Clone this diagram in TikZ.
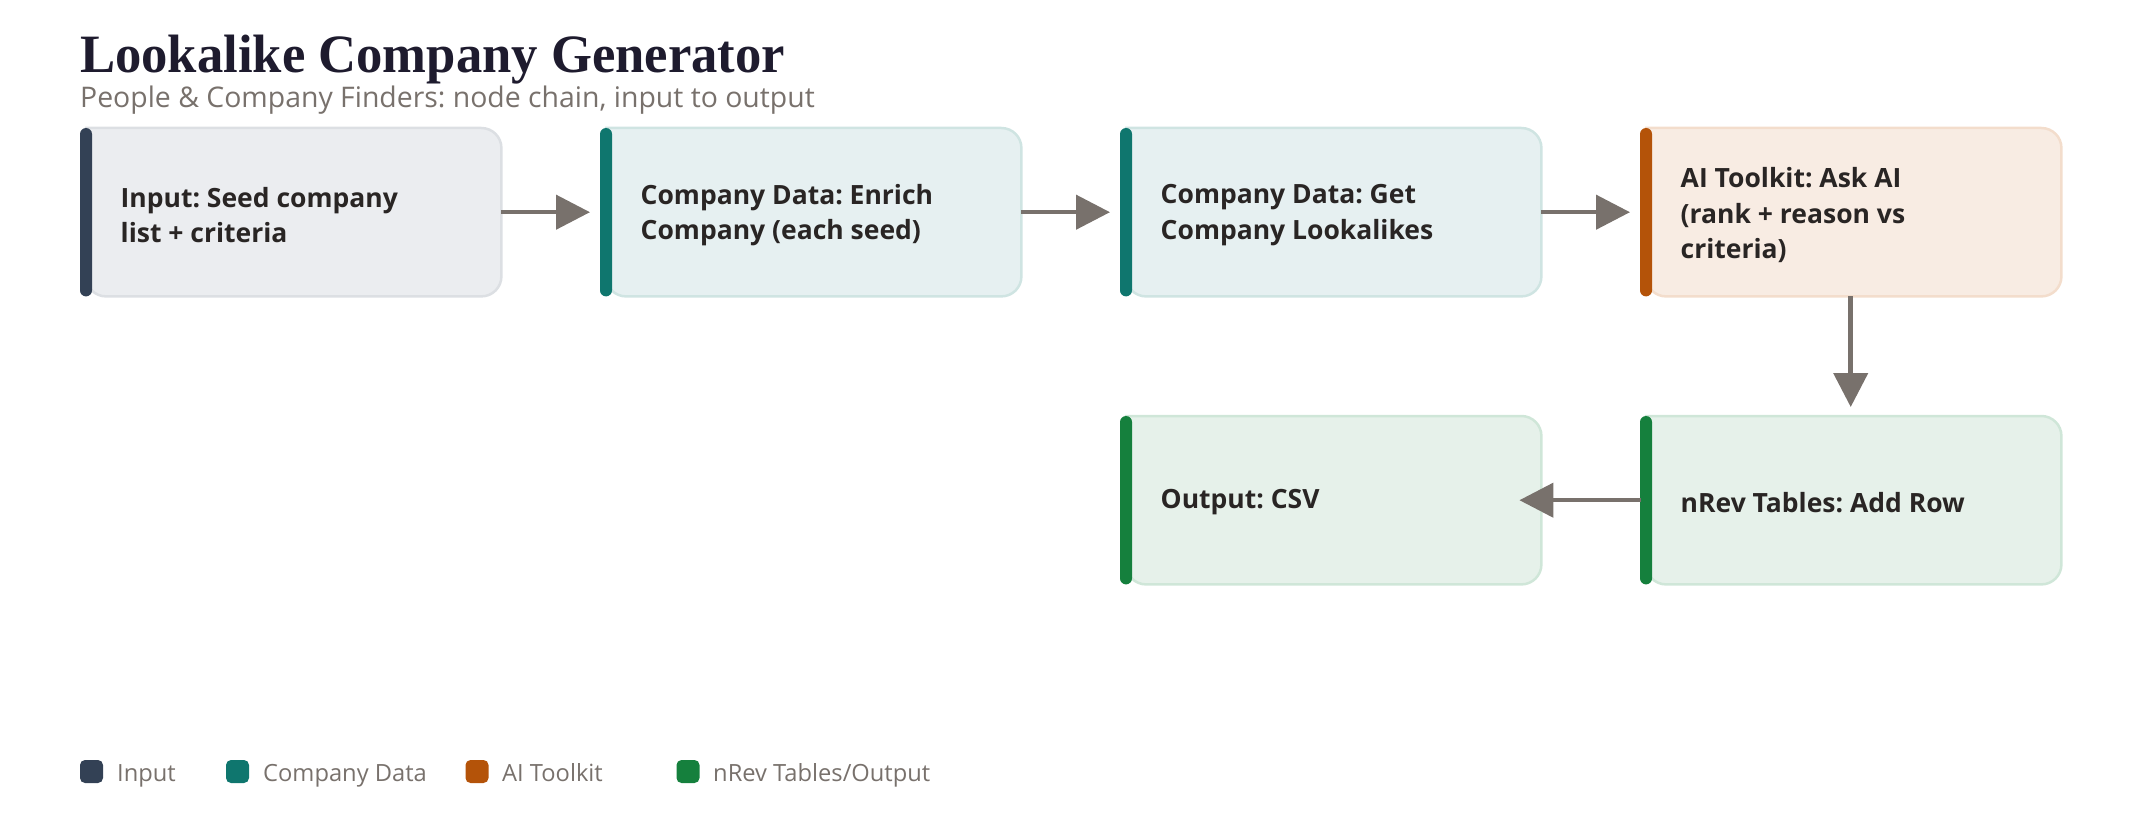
\documentclass[tikz,border=0pt]{standalone}
\usepackage{fontspec}
\usetikzlibrary{arrows.meta,backgrounds}
\newfontfamily\sansf{Open Sans}
\newfontfamily\titlefont[FakeStretch=0.975]{Liberation Serif}
\definecolor{inbar}{HTML}{334155}
\definecolor{infill}{HTML}{EBEDF0}
\definecolor{inborder}{HTML}{DCDFE3}
\definecolor{cdbar}{HTML}{0F766E}
\definecolor{cdfill}{HTML}{E6F0F1}
\definecolor{cdborder}{HTML}{CFE4E2}
\definecolor{aibar}{HTML}{B45309}
\definecolor{aifill}{HTML}{F8ECE3}
\definecolor{aiborder}{HTML}{F3DDCC}
\definecolor{nrbar}{HTML}{15803D}
\definecolor{nrfill}{HTML}{E6F1EA}
\definecolor{nrborder}{HTML}{CFE6D8}
\definecolor{arrowc}{HTML}{78716C}
\definecolor{txt}{HTML}{292524}
\definecolor{sub}{HTML}{78716C}
\definecolor{titlec}{HTML}{1E1B2E}
\newcommand\cardbg[4]{%
  \draw[line width=2.5pt, draw=#3, fill=#2] ([xshift=6pt]#1.north west) [rounded corners=20pt] -- (#1.north east) -- (#1.south east) -- ([xshift=6pt]#1.south west) [sharp corners] -- cycle;
  \fill[#4, rounded corners=6pt] (#1.north west) rectangle ([xshift=12pt]#1.south west);}
\frenchspacing
\begin{document}
\begin{tikzpicture}[x=1pt,y=-1pt,
  card/.style={rectangle, minimum height=168pt, minimum width=421pt, inner sep=0pt, anchor=north west},
  cardtxt/.style={anchor=west, inner sep=0pt, align=left, font=\sansf\bfseries\fontsize{26.5}{35.5}\selectfont, text=txt},
  flow/.style={draw=arrowc, line width=4.5pt, -{Triangle[length=34pt, width=34pt]}},
  legsq/.style={rectangle, rounded corners=5pt, minimum size=23pt, inner sep=0pt},
  legtxt/.style={anchor=base west, font=\sansf\fontsize{23.7}{28}\selectfont, text=sub, inner sep=0pt}]
\useasboundingbox (0,0) rectangle (2140,824);
\node[anchor=base west, inner sep=0pt, font=\titlefont\bfseries\fontsize{54}{60}\selectfont, text=titlec] (title) at (80,73) {Lookalike Company Generator};
\node[anchor=base west, inner sep=0pt, font=\sansf\fontsize{28.4}{32}\selectfont, text=sub] (subtitle) at (80,107) {People \& Company Finders: node chain, input to output};

\node[card] (b1) at (80,128) {};
\node[card] (b2) at (600,128) {};
\node[card] (b3) at (1120,128) {};
\node[card] (b4) at (1640,128) {};
\node[card] (b5) at (1120,416) {};
\node[card] (b6) at (1640,416) {};

\node[cardtxt] (b1t) at ([xshift=40.5pt, yshift=-3pt]b1.west) {Input: Seed company\\list + criteria};
\node[cardtxt] (b2t) at ([xshift=40.5pt, yshift=-3pt]b2.west) {Company Data: Enrich\\Company (each seed)};
\node[cardtxt] (b3t) at ([xshift=40.5pt, yshift=-3pt]b3.west) {Company Data: Get\\Company Lookalikes};
\node[cardtxt] (b4t) at ([xshift=40.5pt, yshift=-3pt]b4.west) {AI Toolkit: Ask AI\\(rank + reason vs\\criteria)};
\node[cardtxt] (b5t) at ([xshift=40.5pt, yshift=-2pt]b5.west) {Output: CSV};
\node[cardtxt] (b6t) at ([xshift=40.5pt, yshift=-2pt]b6.west) {nRev Tables: Add Row};

\begin{scope}[on background layer]
  \cardbg{b1}{infill}{inborder}{inbar}
  \cardbg{b2}{cdfill}{cdborder}{cdbar}
  \cardbg{b3}{cdfill}{cdborder}{cdbar}
  \cardbg{b4}{aifill}{aiborder}{aibar}
  \cardbg{b5}{nrfill}{nrborder}{nrbar}
  \cardbg{b6}{nrfill}{nrborder}{nrbar}
\end{scope}

\draw[flow] (b1.east) -- ([xshift=-10pt]b2.west);
\draw[flow] (b2.east) -- ([xshift=-10pt]b3.west);
\draw[flow] (b3.east) -- ([xshift=-10pt]b4.west);
\draw[flow] (b4.south) -- ([yshift=9pt]b6.north);
\draw[flow] ([xshift=1pt]b6.west) -- ([xshift=-22pt]b5.east);

\node[legsq, fill=inbar] (k1) at (91.5,771.5) {};
\node[legtxt] (t1) at (117,781) {Input};
\node[legsq, fill=cdbar] (k2) at (237.5,771.5) {};
\node[legtxt] (t2) at (263,781) {Company Data};
\node[legsq, fill=aibar] (k3) at (477,771.5) {};
\node[legtxt] (t3) at (502,781) {AI Toolkit};
\node[legsq, fill=nrbar] (k4) at (688,771.5) {};
\node[legtxt] (t4) at (713,781) {nRev Tables/Output};
\end{tikzpicture}
\end{document}
